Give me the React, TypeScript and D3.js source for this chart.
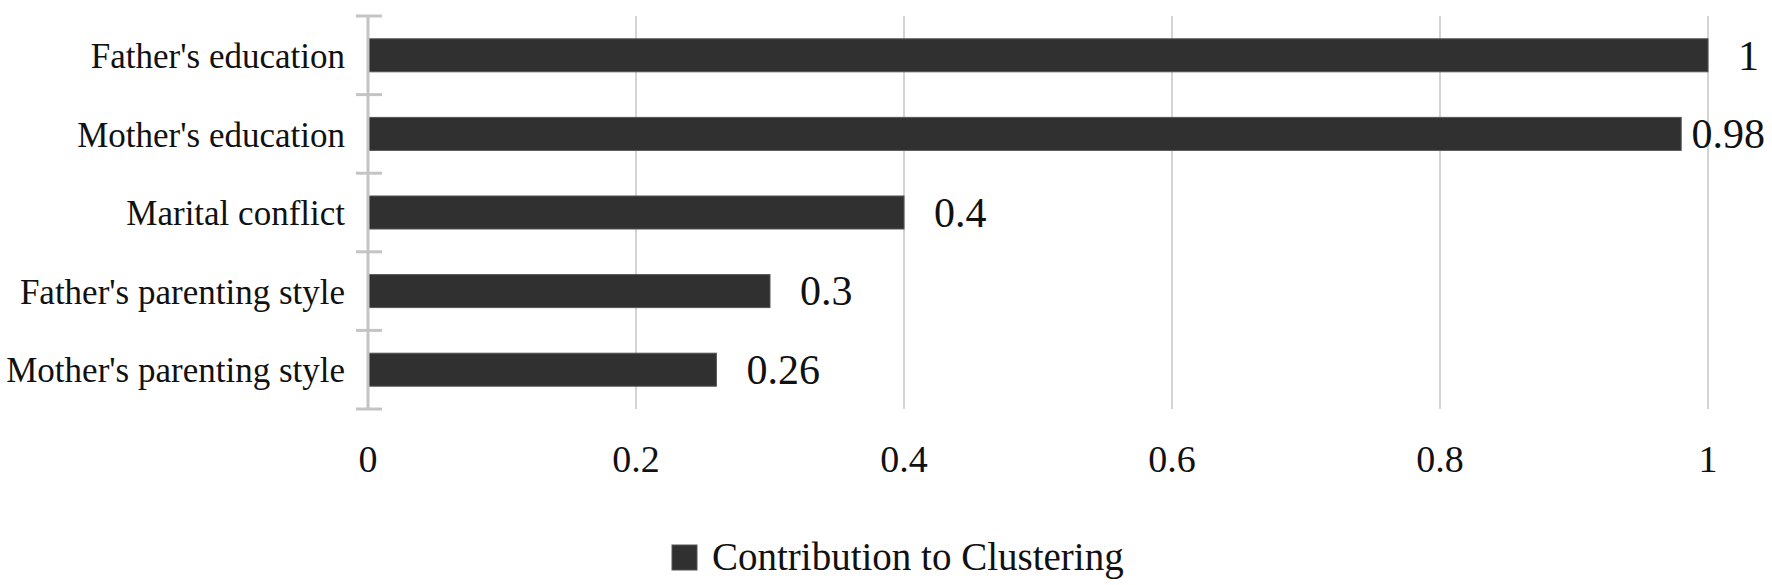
import React from 'react';
import * as d3 from 'd3';

const categories = [
  "Father's education",
  "Mother's education",
  'Marital conflict',
  "Father's parenting style",
  "Mother's parenting style",
];
const contribution = [1, 0.98, 0.4, 0.3, 0.26];
const xTicks = [0, 0.2, 0.4, 0.6, 0.8, 1];
const seriesName = 'Contribution to Clustering';

const W = 1772;
const H = 585;
const FONT = '"Liberation Serif", "Times New Roman", serif';
const BAR = '#303030';

// rough Times width of a numeric label, in em
const numWidth = (s: string) =>
  s.split('').reduce((w, c) => w + (c === '.' ? 0.25 : 0.5), 0);

const App: React.FC = () => {
  const x = d3.scaleLinear().domain([0, 1]).range([368, 1708]);
  const y = d3
    .scaleBand<string>()
    .domain(categories)
    .range([16, 409])
    .paddingInner(0.58)
    .paddingOuter(0.29);
  const step = y.step();
  const top = 16;
  const bottom = 409;
  const valueFont = 42;

  return (
    <svg
      width={W}
      height={H}
      style={{ position: 'absolute', left: 0, top: 0, background: '#fff' }}
      fontFamily={FONT}
    >
      {/* vertical grid */}
      {xTicks.slice(1).map((t) => (
        <line
          key={t}
          x1={x(t)}
          x2={x(t)}
          y1={top}
          y2={bottom}
          stroke="#d4d4d4"
          strokeWidth={2}
        />
      ))}

      {/* bars */}
      {categories.map((c, i) => (
        <rect
          key={c}
          x={x(0)}
          y={y(c)}
          width={x(contribution[i]) - x(0)}
          height={y.bandwidth()}
          fill={BAR}
          stroke="#555"
          strokeWidth={1}
        />
      ))}

      {/* category axis */}
      <line x1={x(0)} x2={x(0)} y1={top} y2={bottom} stroke="#c4c4c4" strokeWidth={3} />
      {d3.range(categories.length + 1).map((i) => (
        <line
          key={i}
          x1={x(0) - 12}
          x2={x(0) + 14}
          y1={top + i * step}
          y2={top + i * step}
          stroke="#c4c4c4"
          strokeWidth={3}
        />
      ))}
      {categories.map((c) => (
        <text
          key={c}
          x={345}
          y={(y(c) ?? 0) + y.bandwidth() / 2}
          dy="0.36em"
          textAnchor="end"
          fontSize={35}
          fill="#111"
        >
          {c}
        </text>
      ))}

      {/* value labels */}
      {categories.map((c, i) => {
        const label = String(contribution[i]);
        const w = numWidth(label) * valueFont;
        const lx = Math.min(x(contribution[i]) + 30, W - 7 - w);
        return (
          <text
            key={c}
            x={lx}
            y={(y(c) ?? 0) + y.bandwidth() / 2}
            dy="0.34em"
            fontSize={valueFont}
            fill="#111"
          >
            {label}
          </text>
        );
      })}

      {/* x tick labels */}
      {xTicks.map((t) => (
        <text
          key={t}
          x={x(t)}
          y={472}
          textAnchor="middle"
          fontSize={38}
          fill="#111"
        >
          {d3.format('~g')(t)}
        </text>
      ))}

      {/* legend */}
      <rect x={672} y={545} width={25} height={25} fill={BAR} stroke="#555" strokeWidth={1} />
      <text x={712} y={570} fontSize={39} fill="#111">
        {seriesName}
      </text>
    </svg>
  );
};

export default App;
